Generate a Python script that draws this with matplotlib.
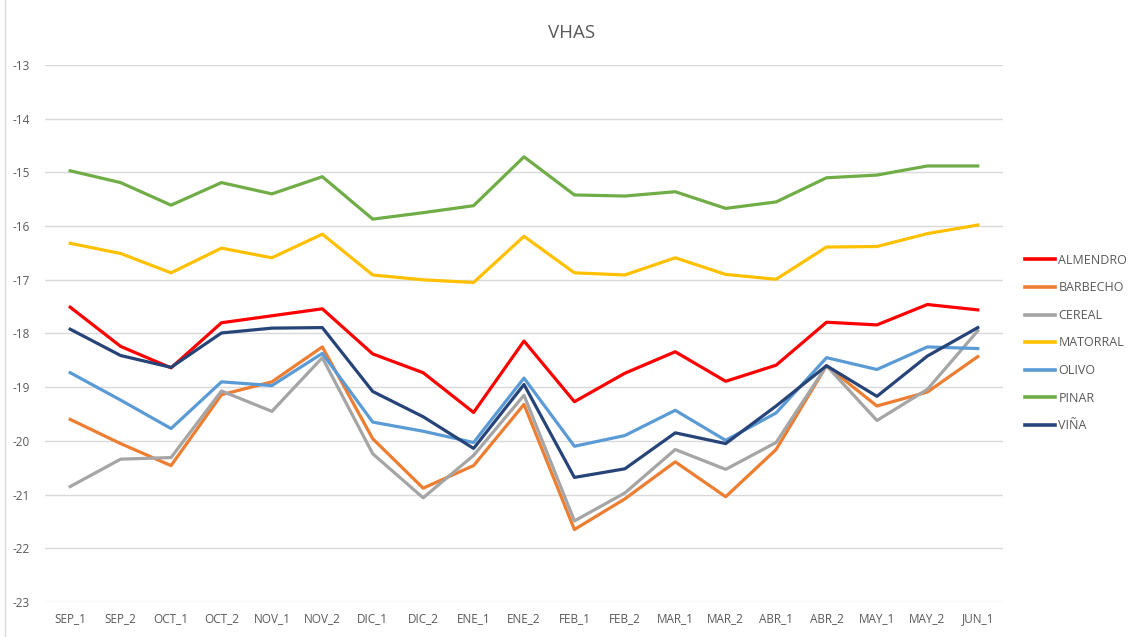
import numpy as np
import matplotlib
matplotlib.use("Agg")
from matplotlib import pyplot as plt
from matplotlib.lines import Line2D

periodos = ['SEP_1', 'SEP_2', 'OCT_1', 'OCT_2', 'NOV_1', 'NOV_2', 'DIC_1', 'DIC_2',
            'ENE_1', 'ENE_2', 'FEB_1', 'FEB_2', 'MAR_1', 'MAR_2', 'ABR_1', 'ABR_2',
            'MAY_1', 'MAY_2', 'JUN_1']

almendro = [-17.51, -18.24, -18.64, -17.80, -17.67, -17.54, -18.38, -18.73, -19.47, -18.14,
            -19.27, -18.74, -18.34, -18.89, -18.59, -17.79, -17.84, -17.46, -17.56]
barbecho = [-19.60, -20.05, -20.46, -19.14, -18.90, -18.25, -19.96, -20.88, -20.46, -19.32,
            -21.65, -21.08, -20.39, -21.04, -20.16, -18.60, -19.35, -19.09, -18.43]
cereal = [-20.85, -20.34, -20.31, -19.07, -19.45, -18.45, -20.24, -21.06, -20.27, -19.15,
          -21.49, -20.97, -20.16, -20.53, -20.03, -18.60, -19.62, -19.04, -17.95]
matorral = [-16.32, -16.51, -16.87, -16.41, -16.59, -16.15, -16.91, -17.00, -17.05, -16.19,
            -16.87, -16.91, -16.59, -16.90, -16.99, -16.39, -16.38, -16.14, -15.98]
olivo = [-18.73, -19.24, -19.77, -18.90, -18.97, -18.37, -19.65, -19.82, -20.03, -18.83,
         -20.10, -19.90, -19.43, -19.99, -19.48, -18.45, -18.67, -18.25, -18.28]
pinar = [-14.97, -15.19, -15.61, -15.19, -15.40, -15.08, -15.87, -15.75, -15.62, -14.71,
         -15.42, -15.44, -15.36, -15.67, -15.55, -15.10, -15.05, -14.88, -14.88]
vina = [-17.92, -18.41, -18.63, -17.99, -17.90, -17.89, -19.08, -19.55, -20.14, -18.95,
        -20.68, -20.52, -19.85, -20.05, -19.35, -18.60, -19.17, -18.42, -17.89]

series = [('ALMENDRO', almendro, '#ff0000'),
          ('BARBECHO', barbecho, '#ed7d31'),
          ('CEREAL', cereal, '#a5a5a5'),
          ('MATORRAL', matorral, '#ffc000'),
          ('OLIVO', olivo, '#5b9bd5'),
          ('PINAR', pinar, '#70ad47'),
          ('VIÑA', vina, '#264478')]

plt.rcParams['font.family'] = ['Open Sans', 'DejaVu Sans']
plt.rcParams['axes.unicode_minus'] = False
gris = '#595959'

fig = plt.figure(figsize=(11.32, 6.37), dpi=100)
ax = fig.add_axes([45/1132, 1 - 602/637, (1003 - 45)/1132, (602 - 65)/637])

x = np.arange(len(periodos))
for nombre, valores, color in series:
    ax.plot(x, valores, color=color, lw=2.3, label=nombre, solid_joinstyle='round')

ax.set_xlim(-0.5, len(periodos) - 0.5)
ax.set_ylim(-23, -13)
ax.set_yticks(np.arange(-23, -12))
ax.set_xticks(x)
ax.set_xticklabels(periodos)
ax.grid(axis='y', color='#d9d9d9', lw=1)
ax.set_axisbelow(True)
for s in ax.spines.values():
    s.set_visible(False)
ax.tick_params(length=0, labelsize=8.5, colors=gris, pad=7)
ax.tick_params(axis='y', pad=11)

fig.text(572/1132, 1 - 33/637, 'VHAS', ha='center', va='center', fontsize=13.5, color=gris)

# borde del area del grafico
fig.add_artist(Line2D([5/1132, 5/1132], [0, 1], color='#d9d9d9', lw=1))

handles = [Line2D([], [], color=c, lw=2.6) for _, _, c in series]
leg = fig.legend(handles, [n for n, _, _ in series], loc='center left',
                 bbox_to_anchor=(1014/1132, 1 - 343/637), frameon=False,
                 fontsize=9, handlelength=2.4, handletextpad=0.25, labelspacing=1.17)
for t in leg.get_texts():
    t.set_color(gris)

fig.savefig('out.png', dpi=100)
